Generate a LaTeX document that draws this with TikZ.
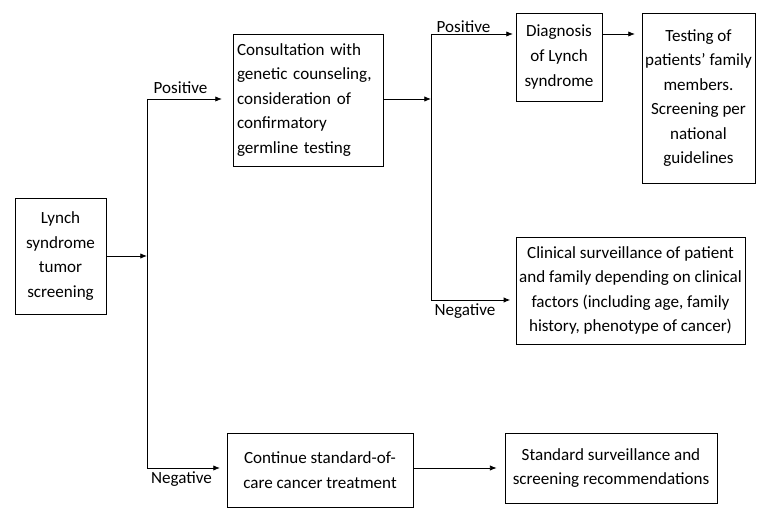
\documentclass[tikz,border=0pt]{standalone}
\usepackage{fontspec}
\setmainfont{Carlito}
\usetikzlibrary{arrows.meta,positioning}

\begin{document}
\begin{tikzpicture}[x=0.75pt,y=-0.75pt,>={Latex[length=5pt,width=4pt]},line width=0.6pt]
  \tikzstyle{every node}=[font=\fontsize{12.8}{18.4}\selectfont]
  \tikzstyle{box}=[draw,align=center,inner sep=2pt]
  \tikzstyle{lbl}=[inner sep=1pt]
  \useasboundingbox (0,0) rectangle (776,520);

  % boxes
  \node[box,minimum width=68.25pt,minimum height=87pt] (lynch) at (60.5,256) {Lynch\\syndrome\\tumor\\screening};
  \node[box,align=left,inner sep=3pt,text width=106.5pt,minimum height=99pt] (consult) at (308,100)
    {Consultation with\\genetic counseling,\\consideration of\\confirmatory\\germline testing};
  \node[box,minimum width=64.5pt,minimum height=66pt] (diag) at (559,57) {Diagnosis\\of Lynch\\syndrome};
  \node[box,minimum width=84.75pt,minimum height=127.5pt] (testing) at (698.5,98)
    {Testing of\\patients’ family\\members.\\Screening per\\national\\guidelines};
  \node[box,minimum width=171.75pt,minimum height=80.25pt] (clinical) at (630.5,290.5)
    {Clinical surveillance of patient\\and family depending on clinical\\factors (including age, family\\history, phenotype of cancer)};
  \node[box,minimum width=139.5pt,minimum height=55.5pt] (cont) at (320,470) {Continue standard-of-\\care cancer treatment};
  \node[box,minimum width=159pt,minimum height=52.5pt] (std) at (611,468) {Standard surveillance and\\screening recommendations};

  % junctions
  \coordinate (j1top) at (147,99);
  \coordinate (j1bot) at (147,468);
  \coordinate (j2top) at (431,34);
  \coordinate (j2mid) at (431,99);
  \coordinate (j2bot) at (431,300);

  % connectors
  \draw (j1top) -- (j1bot);
  \draw[->] (lynch.east) -- (lynch.east -| j1top);
  \draw[->,shorten >=8pt] (j1top) -- (j1top -| consult.west);
  \draw[->,shorten >=5pt] (j1bot) -- (j1bot -| cont.west);
  \draw[->] (consult.east |- j2mid) -- (j2mid);
  \draw (j2top) -- (j2bot);
  \draw[->,shorten >=2pt] (j2top) -- (j2top -| diag.west);
  \draw[->,shorten >=4pt] (j2bot) -- (j2bot -| clinical.west);
  \draw[->,shorten >=5pt] (diag.east |- j2top) -- (testing.west |- j2top);
  \draw[->,shorten >=6pt] (cont.east |- std) -- (std.west);

  % labels
  \node[lbl] (pos1) at (180.5,88) {Positive};
  \node[lbl] (pos2) at (463.5,27) {Positive};
  \node[lbl] (neg1) at (465,311) {Negative};
  \node[lbl] (neg2) at (181.5,479) {Negative};
\end{tikzpicture}
\end{document}
